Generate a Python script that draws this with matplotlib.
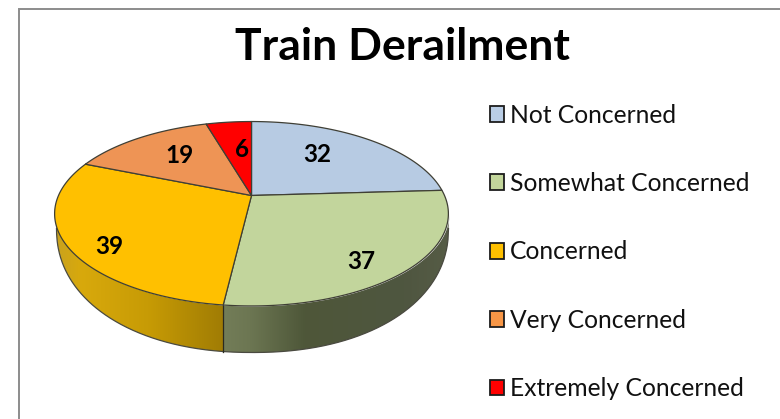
import numpy as np
import matplotlib
matplotlib.use("Agg")
import matplotlib.pyplot as plt
from matplotlib.patches import Polygon, Patch
from matplotlib.colors import to_rgb

title = "Train Derailment"
categories = ["Not Concerned", "Somewhat Concerned", "Concerned", "Very Concerned", "Extremely Concerned"]
values = [32, 37, 39, 19, 6]
colors = ["#B9CDE5", "#C3D69B", "#FFC000", "#F79646", "#FF0000"]
top_colors = ["#B7CBE3", "#C2D59C", "#FFC000", "#EE9455", "#FF0000"]

# layout, in reference pixels
APEX = (251.0, 195.0)
A, B, K = 193.0, 88.6, 0.1978      # perspective mapping of the pie disc
LOW_CX, LOW_CY, LOW_RX, LOW_RY, LOW_N = 252.0, 228.0, 196.0, 124.0, 2.15
label_xy = [(317, 154), (361, 261), (109, 246), (179, 155), (241, 149)]

plt.rcParams["font.family"] = "Lato"
fig = plt.figure(figsize=(7.8, 4.19), dpi=100, facecolor="white")
ax = fig.add_axes([0, 0, 1, 1])
ax.set_xlim(-0.5, 779.5)
ax.set_ylim(418.5, -0.5)
ax.axis("off")

# chart frame: runs off the right and bottom of the picture
ax.plot([18, 18, 781], [420, 9, 9], color="#8C8C8C", lw=1.4, solid_joinstyle="miter", zorder=0.5)


def disc(angle_deg, r=1.0):
    """Clockwise angle from 12 o'clock -> screen position on the tilted disc."""
    a = np.radians(90 - np.asarray(angle_deg, dtype=float))
    u, v = r * np.cos(a), r * np.sin(a)
    w = 1 + K * v
    return APEX[0] + A * u / w, APEX[1] - B * v / w


cuts = np.concatenate([[0], np.cumsum(values)]) / sum(values) * 360

top_cx = APEX[0] + 1
top_cy = 213.5
top_rx, top_ry = 197.0, 92.5


def top_y(x):
    return top_cy + top_ry * np.sqrt(np.clip(1 - ((x - top_cx) / top_rx) ** 2, 0, 1))


def low_y(x):
    t = np.clip(np.abs((x - LOW_CX) / LOW_RX), 0, 1)
    return LOW_CY + LOW_RY * (1 - t ** LOW_N) ** (1 / LOW_N)


x_split = disc(cuts[2])[0]
left_edge, right_edge = top_cx - top_rx, top_cx + top_rx


def wall(x0, x1, stops):
    xs = np.linspace(x0, x1, 300)
    lower_x = np.clip(xs, LOW_CX - LOW_RX, LOW_CX + LOW_RX)
    upper = np.column_stack([xs, top_y(xs)])
    lower = np.column_stack([lower_x, low_y(lower_x)])[::-1]
    poly = Polygon(np.vstack([upper, lower]), closed=True, fc="none", ec="none")
    ax.add_patch(poly)
    pos = np.linspace(0, 1, 256)
    px = [s[0] for s in stops]
    img = np.stack([np.interp(pos, px, [to_rgb(s[1])[c] for s in stops]) for c in range(3)], axis=-1)[None, :, :]
    im = ax.imshow(img, extent=(x0, x1, 360, 190), aspect="auto", interpolation="bilinear", zorder=1)
    im.set_clip_path(poly)
    ax.plot(lower[:, 0], lower[:, 1], color="#4a4a40", lw=0.9, zorder=2)


wall(left_edge, x_split, [(0, "#C9A21E"), (0.15, "#D8A90C"), (0.55, "#C79B05"), (1, "#A07C04")])
wall(x_split, right_edge, [(0, "#737D58"), (0.12, "#6C7652"), (0.36, "#4E5739"), (0.8, "#4F5640"), (1, "#565C46")])
ax.plot([x_split, x_split], [top_y(x_split), low_y(x_split)], color="#2a2a20", lw=0.9, zorder=2)

# top faces
for i, c in enumerate(top_colors):
    angles = np.linspace(cuts[i], cuts[i + 1], 120)
    ex, ey = disc(angles)
    pts = np.vstack([[APEX], np.column_stack([ex, ey])])
    ax.add_patch(Polygon(pts, closed=True, fc=c, ec="#3f3f35", lw=0.9, joinstyle="round", zorder=3))

for (x, y), v in zip(label_xy, values):
    ax.text(x, y, str(v), ha="center", va="center", fontsize=17.5, fontweight="bold", color="black", zorder=5)

ax.text(402, 46, title, ha="center", va="center", fontsize=32, fontweight="bold", color="black")

handles = [Patch(fc=c, ec="#1c1c1c", lw=1.3) for c in colors]
ax.legend(handles, categories, loc="upper left", bbox_to_anchor=(489, 103), bbox_transform=ax.transData,
          frameon=False, fontsize=17.7, handlelength=0.60, handleheight=0.61, handletextpad=0.24,
          labelspacing=1.847, borderpad=0, borderaxespad=0, labelcolor="#111111")

fig.savefig("out.png", dpi=100, facecolor="white")
